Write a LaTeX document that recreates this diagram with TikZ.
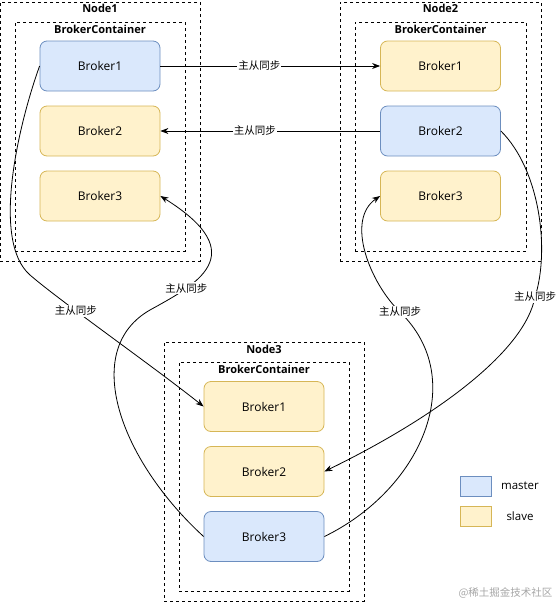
\documentclass[tikz,border=0pt]{standalone}
\usepackage{fontspec}
\setmainfont{Open Sans}
\newfontfamily\cjk{Noto Sans CJK SC}
\usepackage{tikz}
\usetikzlibrary{arrows.meta, positioning}
\definecolor{masterFill}{HTML}{DAE8FC}
\definecolor{masterDraw}{HTML}{6C8EBF}
\definecolor{slaveFill}{HTML}{FFF2CC}
\definecolor{slaveDraw}{HTML}{D6B656}

\begin{document}
\begin{tikzpicture}[
    x=1pt, y=-1pt,
    nodebox/.style={draw, line width=0.8pt, dash pattern=on 3pt off 3pt, inner sep=0pt},
    title/.style={font=\fontsize{11}{13}\selectfont\bfseries, inner sep=1pt},
    masterbox/.style={draw=masterDraw, fill=masterFill, line width=0.8pt, rounded corners=7pt, minimum width=120pt, minimum height=50pt, font=\fontsize{12}{14}\selectfont},
    slavebox/.style={draw=slaveDraw, fill=slaveFill, line width=0.8pt, rounded corners=7pt, minimum width=120pt, minimum height=50pt, font=\fontsize{12}{14}\selectfont},
    synclabel/.style={fill=white, inner sep=1pt, font=\cjk\fontsize{10.5}{12}\selectfont},
    arrow/.style={line width=0.8pt, -{Stealth[length=8pt, width=6pt]}}
]
    \useasboundingbox (0,0) rectangle (559,603);

    % Node1
    \node[nodebox, minimum width=200pt, minimum height=259pt] (node1) at (100, 131.5) {};
    \node[nodebox, minimum width=170pt, minimum height=229pt] (cont1) at (100, 136.5) {};
    \node[title] (node1t) at (100, 8) {Node1};
    \node[title] (cont1t) at (100, 29) {BrokerContainer};
    \node[masterbox] (n1b1) at (100, 66) {Broker1};
    \node[slavebox] (n1b2) at (100, 131) {Broker2};
    \node[slavebox] (n1b3) at (100, 196) {Broker3};

    % Node2
    \node[nodebox, minimum width=201pt, minimum height=259pt] (node2) at (440.5, 131.5) {};
    \node[nodebox, minimum width=171pt, minimum height=229pt] (cont2) at (440.5, 136.5) {};
    \node[title] (node2t) at (440.5, 8) {Node2};
    \node[title] (cont2t) at (440.5, 29) {BrokerContainer};
    \node[slavebox] (n2b1) at (440.5, 66) {Broker1};
    \node[masterbox] (n2b2) at (440.5, 131) {Broker2};
    \node[slavebox] (n2b3) at (440.5, 196) {Broker3};

    % Node3
    \node[nodebox, minimum width=200pt, minimum height=259pt] (node3) at (264, 471.5) {};
    \node[nodebox, minimum width=170pt, minimum height=229pt] (cont3) at (264, 476.5) {};
    \node[title] (node3t) at (264, 349) {Node3};
    \node[title] (cont3t) at (264, 369) {BrokerContainer};
    \node[slavebox] (n3b1) at (264, 406.5) {Broker1};
    \node[slavebox] (n3b2) at (264, 471.5) {Broker2};
    \node[masterbox] (n3b3) at (264, 536.5) {Broker3};

    % legend
    \node[draw=masterDraw, fill=masterFill, line width=0.8pt, minimum width=31pt, minimum height=20pt] (legm) at (475.5, 486) {};
    \node[draw=slaveDraw, fill=slaveFill, line width=0.8pt, minimum width=31pt, minimum height=20pt] (legs) at (475.5, 516) {};
    \node[font=\fontsize{11.5}{13}\selectfont] (legmt) at (520, 486) {master};
    \node[font=\fontsize{11.5}{13}\selectfont] (legst) at (520, 516) {slave};

    % sync
    \draw[arrow] (n1b1) -- node[synclabel, pos=0.45] {主从同步} (n2b1);
    \draw[arrow] (n2b2) -- node[synclabel, pos=0.57] {主从同步} (n1b2);
    \draw[arrow] (n1b1.west) .. controls (20, 120) and (-10, 240) .. (30, 275)
        .. controls (60, 301) and (150, 364) .. node[synclabel, pos=0.33] {主从同步} (n3b1.west);
    \draw[arrow] (n3b3.west) .. controls (120, 460) and (80, 350) .. (150, 310)
        .. controls (195, 285) and (255, 255) .. node[synclabel, pos=0.27] {主从同步} (n1b3.east);
    \draw[arrow] (n2b2.east) .. controls (540, 170) and (550, 250) .. (535, 297) node[synclabel] {主从同步}
        .. controls (525, 350) and (440, 415) .. (n3b2.east);
    \draw[arrow] (n3b3.east) .. controls (420, 490) and (470, 380) .. (400, 312) node[synclabel] {主从同步}
        .. controls (370, 283) and (345, 220) .. (n2b3.west);

    \node[anchor=east, text=black!35, font=\cjk\fontsize{10.5}{12}\selectfont] (mark) at (556, 593) {@稀土掘金技术社区};
\end{tikzpicture}
\end{document}
